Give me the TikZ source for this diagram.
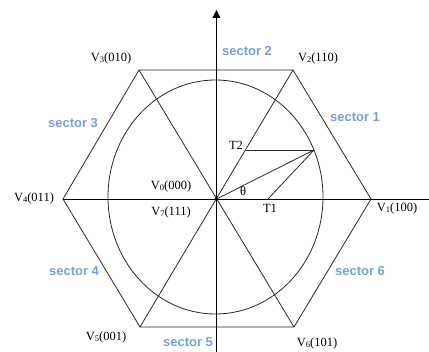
\documentclass[tikz,border=0pt]{standalone}
\usepackage{fontspec}
\setmainfont{Liberation Serif}
\newfontfamily\secfont{Liberation Sans}
\usetikzlibrary{arrows.meta}
\definecolor{sectorblue}{RGB}{120,160,212}
\definecolor{linegray}{RGB}{40,40,40}
\newcommand\vsub[1]{\raisebox{-1.8pt}{\fontsize{8.5}{8.5}\selectfont #1}}
\tikzset{
  hexline/.style={draw=linegray, line width=0.8pt},
  axisline/.style={draw=black, line width=0.9pt},
  vlabel/.style={inner sep=0pt, font=\fontsize{12.5}{12.5}\selectfont},
  seclabel/.style={inner sep=0pt, text=sectorblue, font=\secfont\bfseries\fontsize{13}{13}\selectfont},
}
\begin{document}
\begin{tikzpicture}[x=1pt,y=-1pt]
\useasboundingbox (0,0) rectangle (429,352);
% vertices
\coordinate (O) at (216.5,199);
\coordinate (P1) at (371,199);
\coordinate (P2) at (293,70);
\coordinate (P3) at (139,70);
\coordinate (P4) at (63,199);
\coordinate (P5) at (140,327);
\coordinate (P6) at (294,327);
\coordinate (ytop) at (216.5,10);
\coordinate (ybot) at (216.5,360);
\coordinate (xend) at (437,199);
\coordinate (Tip) at (314,150);
\coordinate (T2p) at (246,150);
\coordinate (T1p) at (268,199);
% hexagon and diagonals
\draw[hexline] (P1) -- (P2) -- (P3) -- (P4) -- (P5) -- (P6) -- cycle;
\draw[hexline] (P2) -- (P5);
\draw[hexline] (P3) -- (P6);
% circle
\draw[draw=linegray, line width=0.8pt] (215.5,197) ellipse [x radius=107.5, y radius=117];
% axes
\draw[axisline, -{Triangle[length=8pt,width=8pt]}] (ybot) -- (ytop);
\draw[axisline, -{Triangle[length=8pt,width=8pt]}] (P4) -- (xend);
% vector construction
\draw[hexline] (O) -- (Tip);
\draw[hexline] (T2p) -- (Tip);
\draw[hexline] (T1p) -- (Tip);
\fill (O) circle (1.8);
% labels
\node[vlabel] (v3) at (111,58) {V\vsub{3}(010)};
\node[vlabel] (v2) at (318,58) {V\vsub{2}(110)};
\node[vlabel] (v4) at (34,198) {V\vsub{4}(011)};
\node[vlabel] (v1) at (397,208) {V\vsub{1}(100)};
\node[vlabel] (v0) at (171,186) {V\vsub{0}(000)};
\node[vlabel] (v7) at (171,212) {V\vsub{7}(111)};
\node[vlabel] (v5) at (106,337) {V\vsub{5}(001)};
\node[vlabel] (v6) at (317,343) {V\vsub{6}(101)};
\node[vlabel] (th) at (243,191) {θ};
\node[vlabel] (t1) at (270,208) {T1};
\node[vlabel] (t2) at (236,145) {T2};
\node[seclabel] (s1) at (355,117) {sector 1};
\node[seclabel] (s2) at (247,51) {sector 2};
\node[seclabel] (s3) at (73,123) {sector 3};
\node[seclabel] (s4) at (74,271) {sector 4};
\node[seclabel] (s5) at (188,342) {sector 5};
\node[seclabel] (s6) at (360,271) {sector 6};
\end{tikzpicture}
\end{document}
